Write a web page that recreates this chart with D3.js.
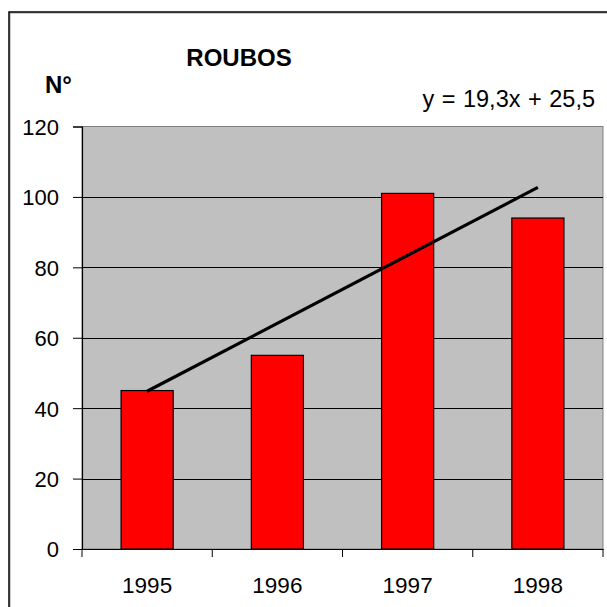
<!DOCTYPE html>
<html>
<head>
<meta charset="utf-8">
<script src="https://cdn.jsdelivr.net/npm/d3@7"></script>
<style>
  body { margin: 0; background: #fff; }
  text { font-family: "Liberation Sans", Arial, sans-serif; }
</style>
</head>
<body>
<div id="chart"></div>
<script>
const years = ["1995", "1996", "1997", "1998"]
const roubos = [45, 55, 101, 94]
const yTicks = [0, 20, 40, 60, 80, 100, 120]
const trend = { slope: 19.3, intercept: 25.5 }
const equation = "y = 19,3x + 25,5"

const WIDTH = 607
const HEIGHT = 607
const PLOT = { left: 82, right: 603, top: 126.5, bottom: 549 }

const svg = d3.select("#chart")
    .append("svg")
    .attr("width", WIDTH)
    .attr("height", HEIGHT)

// outer chart border (runs off the picture on right and bottom)
svg.append("rect")
    .attr("x", 10).attr("y", 13)
    .attr("width", 620).attr("height", 620)
    .attr("fill", "none")
    .attr("stroke", "#999")
    .attr("stroke-width", 1)
svg.append("rect")
    .attr("x", 9).attr("y", 12)
    .attr("width", 620).attr("height", 620)
    .attr("fill", "none")
    .attr("stroke", "#000")
    .attr("stroke-width", 1.5)

let x = d3.scaleBand()
    .domain(years)
    .range([PLOT.left, PLOT.right])
    .padding(0)

let y = d3.scaleLinear()
    .domain([0, 120])
    .range([PLOT.bottom, PLOT.top])

// plot area
svg.append("rect")
    .attr("x", PLOT.left).attr("y", PLOT.top)
    .attr("width", PLOT.right - PLOT.left)
    .attr("height", PLOT.bottom - PLOT.top)
    .attr("fill", "#c0c0c0")
    .attr("stroke", "#808080")
    .attr("stroke-width", 1)

// gridlines
svg.append("g")
    .selectAll("line")
    .data(yTicks.filter(t => t > 0 && t < 120))
    .join("line")
        .attr("x1", PLOT.left).attr("x2", PLOT.right)
        .attr("y1", d => Math.round(y(d)) + 0.5)
        .attr("y2", d => Math.round(y(d)) + 0.5)
        .attr("stroke", "#000")
        .attr("stroke-width", 1)

// bars, 40% of the category width
let barWidth = x.bandwidth() * 0.4
svg.append("g")
    .selectAll("rect")
    .data(years.map((yr, i) => ({ year: yr, value: roubos[i] })))
    .join("rect")
        .attr("x", d => x(d.year) + (x.bandwidth() - barWidth) / 2)
        .attr("y", d => y(d.value))
        .attr("width", barWidth)
        .attr("height", d => y(0) - y(d.value))
        .attr("fill", "#ff0000")
        .attr("stroke", "#000")
        .attr("stroke-width", 1.2)

// linear trendline, x = 1..n
let trendPts = [1, years.length].map(i => ({
    cx: x(years[i - 1]) + x.bandwidth() / 2,
    v: trend.slope * i + trend.intercept
}))
svg.append("line")
    .attr("x1", trendPts[0].cx).attr("y1", y(trendPts[0].v))
    .attr("x2", trendPts[1].cx).attr("y2", y(trendPts[1].v))
    .attr("stroke", "#000")
    .attr("stroke-width", 3.2)

// y axis
let yAxis = svg.append("g")
    .attr("transform", `translate(${PLOT.left},0)`)
    .call(d3.axisLeft(y).tickValues(yTicks).tickSize(9).tickPadding(14))
yAxis.select(".domain").attr("stroke", "#000").attr("stroke-width", 1.2)
yAxis.selectAll(".tick line").attr("stroke", "#000")
yAxis.selectAll("text")
    .attr("font-size", 22)
    .attr("dy", "0.36em")
    .attr("fill", "#000")
    .style("font-family", "'Liberation Sans', Arial, sans-serif")

// x axis with ticks at category boundaries
let xAxis = svg.append("g")
    .attr("transform", `translate(0,${PLOT.bottom})`)
    .call(d3.axisBottom(x).tickSize(0))
xAxis.select(".domain").attr("stroke", "#000").attr("stroke-width", 1.2)
xAxis.selectAll("text")
    .attr("y", 44)
    .attr("dy", 0)
    .attr("font-size", 22.5)
    .attr("fill", "#000")
    .style("font-family", "'Liberation Sans', Arial, sans-serif")
xAxis.append("g")
    .selectAll("line")
    .data(years.concat(["end"]))
    .join("line")
        .attr("x1", (d, i) => i < years.length ? x(d) : PLOT.right)
        .attr("x2", (d, i) => i < years.length ? x(d) : PLOT.right)
        .attr("y1", 0).attr("y2", 8)
        .attr("stroke", "#000")

// titles
svg.append("text")
    .attr("x", 239).attr("y", 66)
    .attr("text-anchor", "middle")
    .attr("font-size", 24)
    .attr("font-weight", "bold")
    .text("ROUBOS")

svg.append("text")
    .attr("x", 45).attr("y", 93)
    .attr("font-size", 24)
    .attr("font-weight", "bold")
    .text("N°")

svg.append("text")
    .attr("x", 595).attr("y", 107)
    .attr("text-anchor", "end")
    .attr("font-size", 23.5)
    .attr("word-spacing", 1)
    .text(equation)
</script>
</body>
</html>
